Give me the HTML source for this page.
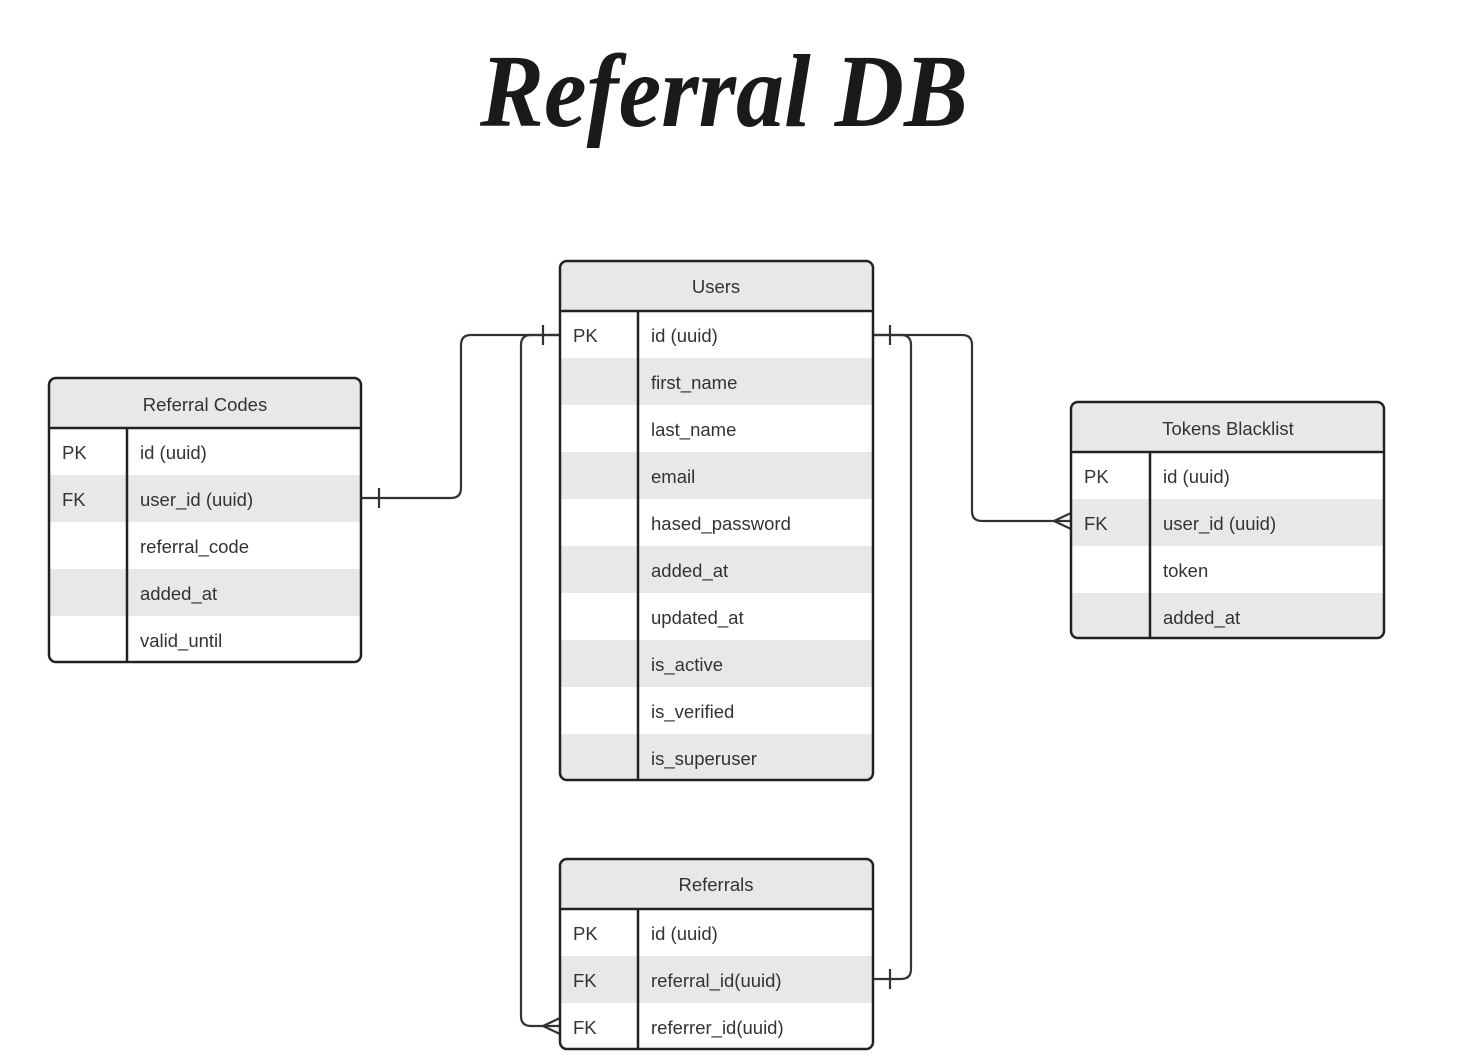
<!DOCTYPE html>
<html><head><meta charset="utf-8"><style>
html,body{margin:0;padding:0;background:#fff;}
svg{display:block;}
text{font-family:"Liberation Sans",sans-serif;font-size:18.5px;fill:#333;}
.t{font-family:"Liberation Serif",serif;font-style:italic;font-weight:bold;font-size:104px;fill:#1a1a1a;}
</style></head><body>
<svg width="1468" height="1063" viewBox="0 0 1468 1063" xmlns="http://www.w3.org/2000/svg">
<text class="t" x="480" y="126" textLength="488" lengthAdjust="spacingAndGlyphs">Referral DB</text>

<g fill="none" stroke="#333" stroke-width="2.2">
<path d="M560 335 H471 Q461 335 461 345 V488 Q461 498 451 498 H361"/>
<line x1="543" y1="325" x2="543" y2="345"/>
<line x1="379" y1="488" x2="379" y2="508"/>
<path d="M560 335 H531 Q521 335 521 345 V1016 Q521 1026 531 1026 H560"/>
<path d="M543 1026 L560 1018 M543 1026 L560 1034"/>
<path d="M873 335 H962 Q972 335 972 345 V511 Q972 521 982 521 H1071"/>
<line x1="890" y1="325" x2="890" y2="345"/>
<path d="M1054 521 L1071 513 M1054 521 L1071 529"/>
<path d="M873 335 H901 Q911 335 911 345 V969 Q911 979 901 979 H873"/>
<line x1="890" y1="969" x2="890" y2="989"/>
</g>

<g>
<rect x="560" y="261" width="313" height="519" rx="7" fill="#fff"/>
<rect x="561" y="262" width="311" height="49" rx="6" fill="#e8e8e8"/>
<rect x="561" y="358" width="311" height="47" fill="#e8e8e8"/>
<rect x="561" y="452" width="311" height="47" fill="#e8e8e8"/>
<rect x="561" y="546" width="311" height="47" fill="#e8e8e8"/>
<rect x="561" y="640" width="311" height="47" fill="#e8e8e8"/>
<rect x="561" y="734" width="311" height="45" fill="#e8e8e8"/>
<rect x="560" y="261" width="313" height="519" rx="7" fill="none" stroke="#222" stroke-width="2.5"/>
<line x1="560" y1="311" x2="873" y2="311" stroke="#222" stroke-width="2.5"/>
<line x1="638" y1="311" x2="638" y2="780" stroke="#222" stroke-width="2.5"/>
<text x="716" y="293" text-anchor="middle">Users</text>
<text x="573" y="342">PK</text>
<text x="651" y="342">id (uuid)</text>
<text x="651" y="389">first_name</text>
<text x="651" y="436">last_name</text>
<text x="651" y="483">email</text>
<text x="651" y="530">hased_password</text>
<text x="651" y="577">added_at</text>
<text x="651" y="624">updated_at</text>
<text x="651" y="671">is_active</text>
<text x="651" y="718">is_verified</text>
<text x="651" y="765">is_superuser</text>
</g>

<g>
<rect x="49" y="378" width="312" height="284" rx="7" fill="#fff"/>
<rect x="50" y="379" width="310" height="49" rx="6" fill="#e8e8e8"/>
<rect x="50" y="475" width="310" height="47" fill="#e8e8e8"/>
<rect x="50" y="569" width="310" height="47" fill="#e8e8e8"/>
<rect x="49" y="378" width="312" height="284" rx="7" fill="none" stroke="#222" stroke-width="2.5"/>
<line x1="49" y1="428" x2="361" y2="428" stroke="#222" stroke-width="2.5"/>
<line x1="127" y1="428" x2="127" y2="662" stroke="#222" stroke-width="2.5"/>
<text x="205" y="411" text-anchor="middle">Referral Codes</text>
<text x="62" y="459">PK</text>
<text x="140" y="459">id (uuid)</text>
<text x="62" y="506">FK</text>
<text x="140" y="506">user_id (uuid)</text>
<text x="140" y="553">referral_code</text>
<text x="140" y="600">added_at</text>
<text x="140" y="647">valid_until</text>
</g>

<g>
<rect x="1071" y="402" width="313" height="236" rx="7" fill="#fff"/>
<rect x="1072" y="403" width="311" height="49" rx="6" fill="#e8e8e8"/>
<rect x="1072" y="499" width="311" height="47" fill="#e8e8e8"/>
<rect x="1072" y="593" width="311" height="44" fill="#e8e8e8"/>
<rect x="1071" y="402" width="313" height="236" rx="7" fill="none" stroke="#222" stroke-width="2.5"/>
<line x1="1071" y1="452" x2="1384" y2="452" stroke="#222" stroke-width="2.5"/>
<line x1="1150" y1="452" x2="1150" y2="638" stroke="#222" stroke-width="2.5"/>
<text x="1228" y="435" text-anchor="middle">Tokens Blacklist</text>
<text x="1084" y="483">PK</text>
<text x="1163" y="483">id (uuid)</text>
<text x="1084" y="530">FK</text>
<text x="1163" y="530">user_id (uuid)</text>
<text x="1163" y="577">token</text>
<text x="1163" y="624">added_at</text>
</g>

<g>
<rect x="560" y="859" width="313" height="190" rx="7" fill="#fff"/>
<rect x="561" y="860" width="311" height="49" rx="6" fill="#e8e8e8"/>
<rect x="561" y="956" width="311" height="47" fill="#e8e8e8"/>
<rect x="560" y="859" width="313" height="190" rx="7" fill="none" stroke="#222" stroke-width="2.5"/>
<line x1="560" y1="909" x2="873" y2="909" stroke="#222" stroke-width="2.5"/>
<line x1="638" y1="909" x2="638" y2="1049" stroke="#222" stroke-width="2.5"/>
<text x="716" y="891" text-anchor="middle">Referrals</text>
<text x="573" y="940">PK</text>
<text x="651" y="940">id (uuid)</text>
<text x="573" y="987">FK</text>
<text x="651" y="987">referral_id(uuid)</text>
<text x="573" y="1034">FK</text>
<text x="651" y="1034">referrer_id(uuid)</text>
</g>
</svg>
</body></html>
